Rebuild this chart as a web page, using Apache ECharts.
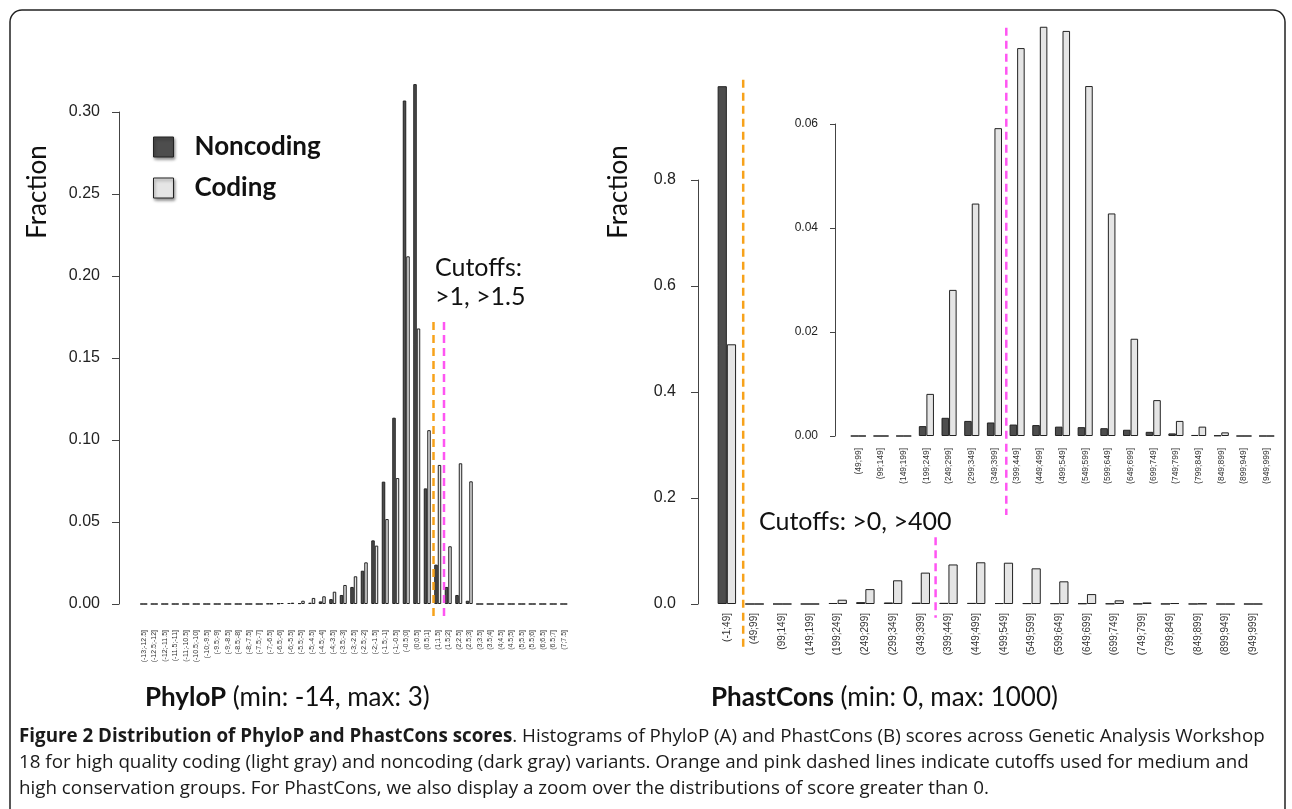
<!DOCTYPE html>
<html><head><meta charset="utf-8">
<script src="https://cdn.jsdelivr.net/npm/echarts@6/dist/echarts.min.js"></script>
<style>html,body{margin:0;padding:0;background:#fff}#c{width:1292px;height:809px}</style>
</head><body><div id="c"></div>
<script>
// ---------- data ----------
const phyloBins = ['(-13;-12.5]','(-12.5;-12]','(-12;-11.5]','(-11.5;-11]','(-11;-10.5]','(-10.5;-10]','(-10;-9.5]','(-9.5;-9]','(-9;-8.5]','(-8.5;-8]','(-8;-7.5]','(-7.5;-7]','(-7;-6.5]','(-6.5;-6]','(-6;-5.5]','(-5.5;-5]','(-5;-4.5]','(-4.5;-4]','(-4;-3.5]','(-3.5;-3]','(-3;-2.5]','(-2.5;-2]','(-2;-1.5]','(-1.5;-1]','(-1;-0.5]','(-0.5;0]','(0;0.5]','(0.5;1]','(1;1.5]','(1.5;2]','(2;2.5]','(2.5;3]','(3;3.5]','(3.5;4]','(4;4.5]','(4.5;5]','(5;5.5]','(5.5;6]','(6;6.5]','(6.5;7]','(7;7.5]'];
const phyloNoncoding = [0,0,0,0,0,0,0,0,0,0,0,0,0.0002,0.0004,0.0006,0.0005,0.0008,0.0016,0.003,0.0055,0.0104,0.0203,0.0388,0.0746,0.1136,0.307,0.317,0.0705,0.024,0.0104,0.0055,0.002,0,0,0,0,0,0,0,0,0];
const phyloCoding    = [0,0,0,0,0,0,0,0,0,0,0,0,0.0002,0.0006,0.0008,0.002,0.0037,0.0047,0.0075,0.0116,0.0169,0.0254,0.0356,0.0518,0.0768,0.212,0.168,0.106,0.0848,0.0352,0.0858,0.0748,0,0,0,0,0,0,0,0,0];
const phyloCutoffBins = ['(1;1.5]','(1.5;2]'];   // cutoffs >1, >1.5

const phastBins = ['(-1;49]','(49;99]','(99;149]','(149;199]','(199;249]','(249;299]','(299;349]','(349;399]','(399;449]','(449;499]','(499;549]','(549;599]','(599;649]','(649;699]','(699;749]','(749;799]','(799;849]','(849;899]','(899;949]','(949;999]'];
const phastNoncoding = [0.977,0,0,0,0.0019,0.0035,0.0029,0.0026,0.0022,0.0021,0.0018,0.0017,0.0015,0.0012,0.0008,0.0005,0.0002,0.0001,0,0];
const phastCoding    = [0.49,0,0,0,0.0081,0.0281,0.0447,0.0592,0.0746,0.0787,0.0779,0.0673,0.0428,0.0187,0.0069,0.0029,0.0018,0.0007,0,0];
const phastCutoffBins = ['(49;99]','(399;449]'];  // cutoffs >0, >400

// zoomed inset: scores greater than 0 (drop first bin)
const zoomBins = phastBins.slice(1);
const zoomNoncoding = phastNoncoding.slice(1);
const zoomCoding = phastCoding.slice(1);

// ---------- styles ----------
const DARK = '#4d4d4d', LIGHT = '#e5e5e5', EDGE = '#222';
const ORANGE = '#f7a21b', PINK = '#ff55f2';
const TICKFONT = 'Liberation Sans';
const TXTFONT = 'Lato';

function barPair(i, nc, c) {
  const base = {type:'bar', xAxisIndex:i, yAxisIndex:i, barWidth:'33.3%', barGap:'0%', clip:false, animation:false};
  return [
    Object.assign({}, base, {name:'Noncoding', data:nc, itemStyle:{color:DARK, borderColor:EDGE, borderWidth:1}}),
    Object.assign({}, base, {name:'Coding', data:c, itemStyle:{color:LIGHT, borderColor:EDGE, borderWidth:1}})
  ];
}
function cutoff(i, bins, bin, color, yTop, yBot, dx) {
  return {
    type:'custom', xAxisIndex:i, yAxisIndex:i, silent:true, clip:false, z:5,
    data:[[bins.indexOf(bin), 0]],
    renderItem(params, api) {
      const idx = api.value(0);
      const w = api.size([1, 0])[0];
      const x = api.coord([idx, 0])[0] - w / 2 + (dx || 0);
      const y1 = api.coord([idx, yTop])[1];
      const y2 = api.coord([idx, yBot])[1];
      return {type:'line', shape:{x1:x, y1:y1, x2:x, y2:y2},
        style:{stroke:color, lineWidth:2.5, lineDash:[8,5]}};
    }
  };
}
function xAx(i, bins, fs, margin) {
  return {type:'category', gridIndex:i, data:bins,
    axisLine:{show:false}, axisTick:{show:false}, splitLine:{show:false},
    axisLabel:{interval:0, rotate:90, fontSize:fs, margin:margin, color:'#333', fontFamily:TICKFONT}};
}
function yAx(i, max, interval, offset, margin, fs, digits, tickLen) {
  return {type:'value', gridIndex:i, min:0, max:max, interval:interval, offset:offset,
    axisLine:{show:true, lineStyle:{color:'#444', width:1}},
    axisTick:{show:true, length:tickLen, lineStyle:{color:'#444', width:1}},
    splitLine:{show:false},
    axisLabel:{margin:margin, fontSize:fs, color:'#222', fontFamily:TICKFONT,
      formatter: v => v.toFixed(digits)}};
}

const chart = echarts.init(document.getElementById('c'), null, {renderer:'canvas'});
chart.setOption({
  animation:false,
  backgroundColor:'#fff',
  grid:[
    {left:138.5, top:112, width:430.5, height:492},
    {left:713, top:180, width:554, height:424},
    {left:847, top:124, width:431, height:312}
  ],
  xAxis:[ xAx(0, phyloBins, 7, 26), xAx(1, phastBins, 10, 9), xAx(2, zoomBins, 8.5, 12) ],
  yAxis:[ yAx(0, 0.30, 0.05, 19.5, 19, 16, 2, 7),
          yAx(1, 0.8, 0.2, 15, 22, 16, 1, 7),
          yAx(2, 0.06, 0.02, 12, 17, 12, 2, 5) ],
  legend:{
    data:['Noncoding','Coding'], orient:'vertical', left:153, top:134, padding:0,
    icon:'rect', itemWidth:20, itemHeight:20, itemGap:15, selectedMode:false,
    itemStyle:{borderColor:'#222', borderWidth:1, shadowBlur:3, shadowColor:'rgba(0,0,0,0.45)', shadowOffsetX:1, shadowOffsetY:2},
    textStyle:{fontFamily:TXTFONT, fontWeight:'bold', fontSize:26, color:'#111', lineHeight:20, padding:[0,0,0,16]}
  },
  series:[
    ...barPair(0, phyloNoncoding, phyloCoding),
    ...barPair(1, phastNoncoding, phastCoding),
    ...barPair(2, zoomNoncoding, zoomCoding),
    cutoff(0, phyloBins, phyloCutoffBins[0], ORANGE, 0.172, -0.0085, 1),
    cutoff(0, phyloBins, phyloCutoffBins[1], PINK, 0.172, -0.0085, 1),
    cutoff(1, phastBins, phastCutoffBins[0], ORANGE, 0.989, -0.081, 2.5),
    cutoff(1, phastBins, phastCutoffBins[1], PINK, 0.126, -0.026, 1),
    cutoff(2, zoomBins, phastCutoffBins[1], PINK, 0.0785, -0.0152, 0.5)
  ],
  graphic:[
    {type:'rect', shape:{x:10, y:10, width:1275, height:840, r:12}, style:{fill:null, stroke:'#222', lineWidth:1.5}, silent:true},
    {type:'text', x:38, y:192, rotation:Math.PI/2, style:{text:'Fraction', font:'26px Lato', fill:'#111', align:'center', verticalAlign:'middle'}},
    {type:'text', x:619, y:192, rotation:Math.PI/2, style:{text:'Fraction', font:'26px Lato', fill:'#111', align:'center', verticalAlign:'middle'}},
    {type:'text', x:435, y:253, style:{text:'Cutoffs:\n>1, >1.5', font:'25px Lato', lineHeight:29, fill:'#111', align:'left', verticalAlign:'top'}},
    {type:'text', x:759, y:522, style:{text:'Cutoffs: >0, >400', font:'25px Lato', fill:'#111', align:'left', verticalAlign:'middle'}},
    {type:'text', x:145, y:698, style:{text:'{b|PhyloP} (min: -14, max: 3)', font:'26px Lato', fill:'#111', verticalAlign:'middle',
      rich:{b:{fontWeight:'bold', fontSize:26, fontFamily:'Lato'}}}},
    {type:'text', x:711, y:698, style:{text:'{b|PhastCons} (min: 0, max: 1000)', font:'26px Lato', fill:'#111', verticalAlign:'middle',
      rich:{b:{fontWeight:'bold', fontSize:26, fontFamily:'Lato'}}}},
    {type:'text', x:19, y:737, style:{text:'{b|Figure 2 Distribution of PhyloP and PhastCons scores}. Histograms of PhyloP (A) and PhastCons (B) scores across Genetic Analysis Workshop',
      font:'18.8px "Open Sans"', fill:'#1a1a1a', verticalAlign:'middle', rich:{b:{fontWeight:'bold', fontSize:18.8, fontFamily:'Open Sans'}}}},
    {type:'text', x:19, y:763, style:{text:'18 for high quality coding (light gray) and noncoding (dark gray) variants. Orange and pink dashed lines indicate cutoffs used for medium and',
      font:'18.8px "Open Sans"', fill:'#1a1a1a', verticalAlign:'middle'}},
    {type:'text', x:19, y:789, style:{text:'high conservation groups. For PhastCons, we also display a zoom over the distributions of score greater than 0.',
      font:'18.8px "Open Sans"', fill:'#1a1a1a', verticalAlign:'middle'}}
  ]
});
</script></body></html>
